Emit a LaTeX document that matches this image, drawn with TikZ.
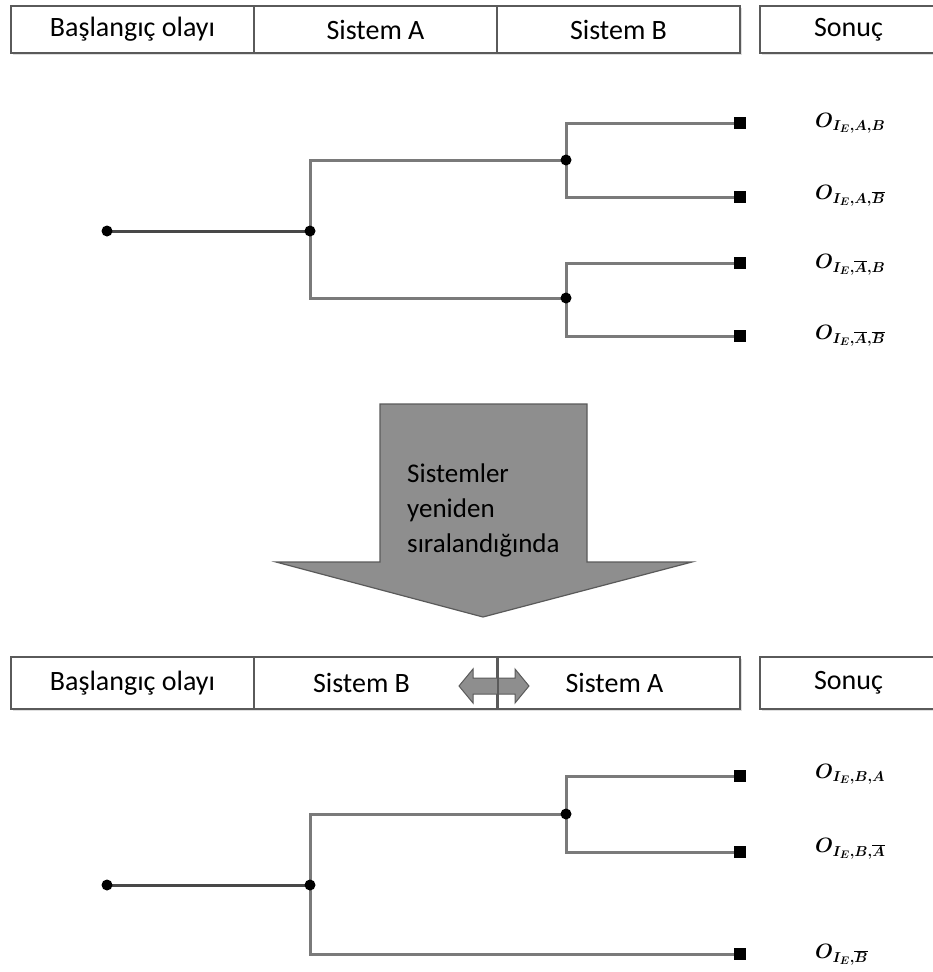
\documentclass[tikz,border=0pt]{standalone}
\usepackage{fontspec}
\setmainfont{Carlito}
\usetikzlibrary{backgrounds,shadows}
\definecolor{boxline}{HTML}{5A5A5A}
\definecolor{treeline}{HTML}{7A7A7A}
\definecolor{rootline}{HTML}{484848}
\definecolor{blockfill}{HTML}{8E8E8E}
\definecolor{blockline}{HTML}{5A5A5A}
\tikzset{
  hdr/.style={draw=boxline, line width=2pt, fill=white, inner sep=0pt,
    anchor=north west, minimum height=#1, minimum width=243pt,
    font=\fontsize{28}{32}\selectfont,
    drop shadow={opacity=0.25, shadow xshift=1.5pt, shadow yshift=-1.5pt}},
  dot/.style={circle, fill=black, inner sep=0pt, minimum size=11pt},
  leaf/.style={rectangle, fill=black, inner sep=0pt, minimum size=12pt},
  branch/.style={draw=treeline, line width=3pt},
  stem/.style={draw=rootline, line width=3pt},
  outcome/.style={anchor=base west, inner sep=0pt,
    font=\fontsize{21}{24}\selectfont\boldmath},
  block/.style={fill=blockfill, draw=blockline, line width=1.2pt, line join=miter},
}
\begin{document}
\begin{tikzpicture}[x=1pt, y=-1pt]
\useasboundingbox (0,0) rectangle (933,972);

% ---------- upper header row ----------
\node[hdr=47pt] (h1) at (10,5) {Başlangıç olayı};
\node[hdr=47pt] (h2) at (253,5) {Sistem A};
\node[hdr=47pt] (h3) at (496,5) {Sistem B};
\node[hdr=47pt, minimum width=185pt] (h4) at (759,5) {\hspace*{-8pt}Sonuç};

% ---------- upper event tree ----------
\node[dot] (r1) at (107,231) {};
\node[dot] (a1) at (310,231) {};
\node[dot] (b1) at (566,160) {};
\node[dot] (b2) at (566,298) {};
\node[leaf] (l1) at (740,123) {};
\node[leaf] (l2) at (740,197) {};
\node[leaf] (l3) at (740,263) {};
\node[leaf] (l4) at (740,336) {};
\begin{scope}[on background layer]
  \draw[stem] (r1.center) -- (a1.center);
  \draw[branch] (a1.center) |- (b1.center);
  \draw[branch] (a1.center) |- (b2.center);
  \draw[branch] (b1.center) |- (l1.center);
  \draw[branch] (b1.center) |- (l2.center);
  \draw[branch] (b2.center) |- (l3.center);
  \draw[branch] (b2.center) |- (l4.center);
\end{scope}
\node[outcome] (o1) at (815,127) {$O_{I_E,A,B}$};
\node[outcome] (o2) at (815,199) {$O_{I_E,A,\overline{B}}$};
\node[outcome] (o3) at (815,268) {$O_{I_E,\overline{A},B}$};
\node[outcome] (o4) at (815,339) {$O_{I_E,\overline{A},\overline{B}}$};

% ---------- reordering block arrow ----------
\draw[block] (380,404) -- (587,404) -- (587,562) -- (692,562) -- (483,617)
  -- (276,562) -- (380,562) -- cycle;
\node[anchor=north west, inner sep=0pt, align=left, text=black,
  font=\fontsize{27}{35}\selectfont] (note) at (407,464)
  {Sistemler\\yeniden\\sıralandığında};

% ---------- lower header row ----------
\node[hdr=52pt] (k1) at (10,656) {Başlangıç olayı};
\node[hdr=52pt] (k2) at (253,656) {Sistem B\hspace*{28pt}};
\node[hdr=52pt] (k3) at (496,656) {Sistem A\hspace*{8pt}};
\node[hdr=52pt, minimum width=185pt] (k4) at (759,656) {\hspace*{-8pt}Sonuç};
% swap marker on the shared border
\draw[fill=blockfill, draw=blockline, line width=1pt, line join=miter]
  (459,686) -- (473,669) -- (473,678) -- (515,678) -- (515,669) -- (529,686)
  -- (515,703) -- (515,694) -- (473,694) -- (473,703) -- cycle;
\draw[draw=boxline, line width=2pt] (k2.north east) -- (k2.south east);

% ---------- lower event tree ----------
\node[dot] (r2) at (107,885) {};
\node[dot] (c1) at (310,885) {};
\node[dot] (d1) at (566,814) {};
\node[leaf] (m1) at (740,776) {};
\node[leaf] (m2) at (740,852) {};
\node[leaf] (m3) at (740,954) {};
\begin{scope}[on background layer]
  \draw[stem] (r2.center) -- (c1.center);
  \draw[branch] (c1.center) |- (d1.center);
  \draw[branch] (c1.center) |- (m3.center);
  \draw[branch] (d1.center) |- (m1.center);
  \draw[branch] (d1.center) |- (m2.center);
\end{scope}
\node[outcome] (p1) at (815,778) {$O_{I_E,B,A}$};
\node[outcome] (p2) at (815,852) {$O_{I_E,B,\overline{A}}$};
\node[outcome] (p3) at (815,958) {$O_{I_E,\overline{B}}$};
\end{tikzpicture}
\end{document}
